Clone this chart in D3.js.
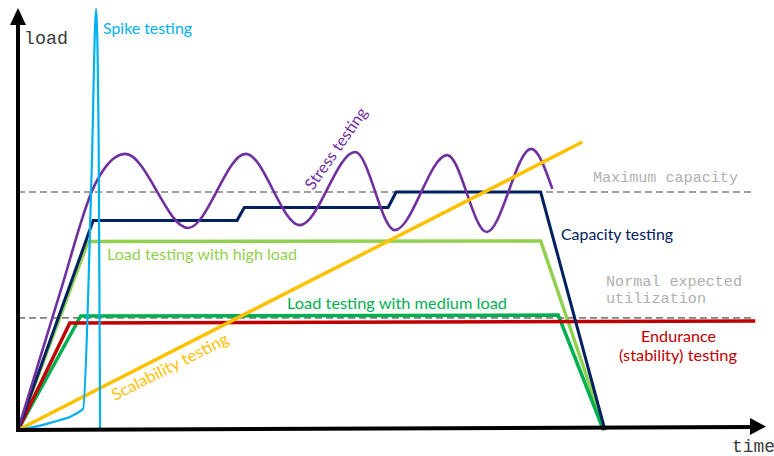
<!DOCTYPE html>
<html>
<head>
<meta charset="utf-8">
<script src="https://cdn.jsdelivr.net/npm/d3@7"></script>
<style>
  html, body { margin: 0; padding: 0; background: #fff; }
  svg { display: block; }
</style>
</head>
<body>
<div id="chart"></div>
<script>
// ---------- DATA (time units 0..100, load units: 100 = maximum capacity) ----------
const maxCapacity = 100;
const normalLoad = 47.1;

const spikeTesting = [[0,0],[4.4,3.0],[8.9,8.8],[10.1,110],[10.7,177],[11.05,120],[11.25,0]];
const stressTesting = [[0,0],[5.75,57.6],[10.5,102.9],[14.7,116],[23.3,84.9],[31.2,116],[38.6,86.1],
                       [46.2,116.8],[51.6,84.0],[58.8,115.5],[64.2,83.2],[70.3,118.1],[73.2,101.3]];
const capacityTesting = [[0,0],[10.3,88],[30,88],[31,93.5],[50.7,93.5],[51.8,100],[71.6,100],[80.4,0]];
const highLoadTesting = [[0,0],[9.6,79.2],[71.6,79.4],[80.4,0]];
const mediumLoadTesting = [[0,0],[8.6,47.9],[74.0,48.3],[80.2,0]];
const enduranceTesting = [[0,0],[7.1,45.0],[101,45.8]];
const scalabilityTesting = [[0,0],[77.3,121]];

const axisLabels = { x: "time", y: "load" };
const refLabels = ["Maximum capacity", ["Normal expected", "utilization"]];
const seriesLabels = {
  spike: "Spike testing",
  stress: "Stress testing",
  capacity: "Capacity testing",
  high: "Load testing with high load",
  medium: "Load testing with medium load",
  endurance: ["Endurance", "(stability) testing"],
  scalability: "Scalability testing"
};

// ---------- LAYOUT ----------
const W = 774, H = 456;
const x = d3.scaleLinear().domain([0, 100]).range([18, 748]);
const y = d3.scaleLinear().domain([0, 100]).range([430, 192]);

const svg = d3.select("#chart").append("svg").attr("width", W).attr("height", H);

const sans = "Lato, 'Open Sans', 'Noto Sans', sans-serif";
const mono = "'Liberation Mono', 'DejaVu Sans Mono', monospace";

// reference dashed lines
[maxCapacity, normalLoad].forEach(v => {
  svg.append("line")
    .attr("x1", x(0)).attr("x2", x(100.5))
    .attr("y1", y(v)).attr("y2", y(v))
    .attr("stroke", "#808080").attr("stroke-width", 1.6)
    .attr("stroke-dasharray", "7,4");
});

const lineLinear = d3.line().x(d => x(d[0])).y(d => y(d[1])).curve(d3.curveLinear);
const lineSmooth = d3.line().x(d => x(d[0])).y(d => y(d[1])).curve(d3.curveMonotoneX);

function draw(data, color, width, gen) {
  svg.append("path").datum(data)
    .attr("d", gen)
    .attr("fill", "none")
    .attr("stroke", color)
    .attr("stroke-width", width)
    .attr("stroke-linejoin", "miter")
    .attr("stroke-linecap", "butt");
}

draw(highLoadTesting, "#92D050", 3.5, lineLinear);
draw(mediumLoadTesting, "#00B050", 3.5, lineLinear);
draw(enduranceTesting, "#C00000", 3.5, lineLinear);
draw(capacityTesting, "#002060", 3, lineLinear);
draw(stressTesting, "#7030A0", 2.6, lineSmooth);
draw(scalabilityTesting, "#FFC000", 3.5, lineLinear);
draw(spikeTesting, "#00B0F0", 2.2, lineSmooth);

// axes
svg.append("line").attr("x1", x(0)).attr("y1", y(0) + 2).attr("x2", x(0)).attr("y2", 24)
  .attr("stroke", "#000").attr("stroke-width", 4);
svg.append("path").attr("d", `M${x(0)-8},25 L${x(0)+8},25 L${x(0)},8 Z`).attr("fill", "#000");
svg.append("line").attr("x1", x(0) - 2).attr("y1", y(0)).attr("x2", 751).attr("y2", y(0) - 3)
  .attr("stroke", "#000").attr("stroke-width", 4);
svg.append("path").attr("d", `M750,418 L750,435 L766,426.5 Z`).attr("fill", "#000");

// text helper
function label(txt, px, py, color, opts = {}) {
  const t = svg.append("text")
    .attr("x", px).attr("y", py)
    .attr("fill", color)
    .attr("font-family", opts.family || sans)
    .attr("font-size", opts.size || 16)
    .attr("text-anchor", opts.anchor || "start")
    .text(txt);
  if (opts.len) t.attr("textLength", opts.len).attr("lengthAdjust", "spacingAndGlyphs");
  if (opts.rotate !== undefined) t.attr("transform", `rotate(${opts.rotate},${px},${py})`);
  return t;
}

// axis labels
label(axisLabels.y, 24, 44, "#3a3a3a", { family: mono, size: 18, len: 44 });
label(axisLabels.x, 732, 452, "#3a3a3a", { family: mono, size: 18, len: 43 });

// reference labels
label(refLabels[0], 593, 182, "#B0B0B0", { family: mono, size: 15, len: 145 });
label(refLabels[1][0], 606, 286, "#B0B0B0", { family: mono, size: 15, len: 136 });
label(refLabels[1][1], 606, 303, "#B0B0B0", { family: mono, size: 15, len: 100 });

// series labels
label(seriesLabels.spike, 103, 34, "#00B0F0", { len: 89 });
label(seriesLabels.high, 107, 260, "#92D050", { len: 190 });
label(seriesLabels.capacity, 561, 240, "#002060", { len: 112 });
label(seriesLabels.medium, 287, 309, "#00B050", { len: 220 });
label(seriesLabels.endurance[0], 678.5, 342, "#C00000", { anchor: "middle", len: 75 });
label(seriesLabels.endurance[1], 678, 361, "#C00000", { anchor: "middle", len: 118 });
label(seriesLabels.stress, 313, 191, "#7030A0", { rotate: -55, len: 96 });
label(seriesLabels.scalability, 115, 401, "#FFC000", { rotate: -27, len: 129 });
</script>
</body>
</html>
